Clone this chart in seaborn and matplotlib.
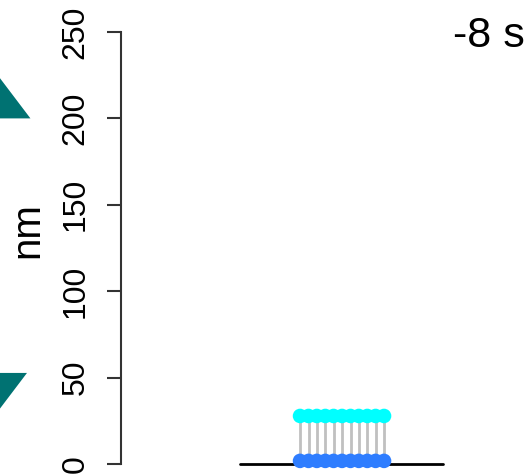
import numpy as np
import pandas as pd
import seaborn as sns
import matplotlib.pyplot as plt

# positions along the membrane (nm) and heights of the two rows of beads
pos_nm = [0.0, 4.9, 9.7, 14.6, 19.4, 24.3, 29.2, 34.0, 38.9, 43.7, 48.6]
bottom_nm = [1.8, 1.8, 1.8, 1.8, 1.8, 1.8, 1.8, 1.8, 1.8, 1.8, 1.8]
top_nm = [27.8, 27.8, 27.8, 27.8, 27.8, 27.8, 27.8, 27.8, 27.8, 27.8, 27.8]

# flat membrane line
membrane_x = [-34.5, 83.0]
membrane_y = [0.0, 0.0]

y_ticks = [0, 50, 100, 150, 200, 250]
time_label = "-8 s"
y_label = "nm"

# teal triangle markers at the left edge (base levels, nm)
tri_up_level = 200.0
tri_down_level = 52.7

# set up style
sns.set_theme(style="white")
plt.rcParams['font.family'] = ['Liberation Sans', 'DejaVu Sans']

fig = plt.figure(figsize=(5.28, 4.74), dpi=100)
ax = fig.add_axes([121 / 528, 10 / 474, 407 / 528, 432 / 474])

df = pd.DataFrame({
    'x': pos_nm + pos_nm,
    'y': bottom_nm + top_nm,
    'row': ['bottom'] * len(pos_nm) + ['top'] * len(pos_nm),
})

# membrane
sns.lineplot(x=membrane_x, y=membrane_y, color='black', linewidth=2.0, ax=ax,
             zorder=1, clip_on=False)

# connectors
ax.vlines(pos_nm, bottom_nm, top_nm, color='#c0c0c0', linewidth=2, zorder=2)

# beads
sns.scatterplot(data=df, x='x', y='y', hue='row',
                palette={'bottom': '#2e7dff', 'top': '#00ffff'},
                s=110, linewidth=0, legend=False, ax=ax, zorder=3, clip_on=False)

# triangles hanging off the left side
ax.fill([-156, -181, -206], [tri_up_level, tri_up_level + 33, tri_up_level],
        color='#007272', clip_on=False, lw=0)
ax.fill([-158, -183, -208], [tri_down_level, tri_down_level - 33, tri_down_level],
        color='#007272', clip_on=False, lw=0)

ax.set_xlim(-103.6, 131.9)
ax.set_ylim(0, 250)
ax.set_xticks([])
ax.set_yticks(y_ticks)
ax.set_xlabel('')
ax.set_ylabel('')

sns.despine(ax=ax, left=False, bottom=True)
ax.spines['left'].set_bounds(0, 250)
ax.spines['left'].set_color('#333333')
ax.spines['left'].set_linewidth(1.5)
ax.tick_params(axis='y', left=True, length=10, width=1.5, color='#333333',
               pad=12, labelsize=23, labelrotation=90, labelcolor='black')
for lbl in ax.get_yticklabels():
    lbl.set_va('center')

fig.text(27 / 528, 1 - 230 / 474, y_label, rotation=90, ha='center', va='center',
         fontsize=29, color='black')
fig.text(489 / 528, 1 - 47 / 474, time_label, ha='center', va='baseline',
         fontsize=31, color='black')

fig.savefig('out.png', dpi=100)
plt.close(fig)
